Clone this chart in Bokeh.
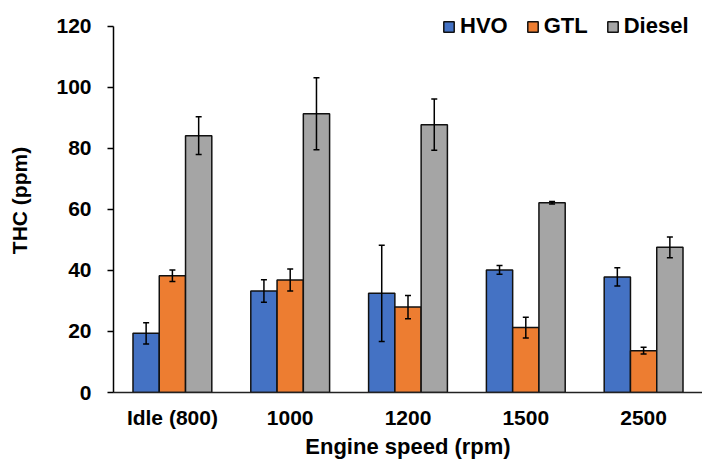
from bokeh.plotting import figure
from bokeh.models import (ColumnDataSource, Range1d, FactorRange, FixedTicker, Whisker,
                          TeeHead, Legend, LegendItem)
from bokeh.transform import dodge
from bokeh.embed import file_html
from bokeh.resources import INLINE

# ---- data ----
categories = ["Idle (800)", "1000", "1200", "1500", "2500"]
hvo = [19.4, 33.3, 32.5, 40.2, 37.9]
gtl = [38.3, 36.9, 28.0, 21.3, 13.7]
diesel = [84.2, 91.4, 87.8, 62.2, 47.6]
hvo_err = [3.5, 3.7, 15.8, 1.4, 3.0]
gtl_err = [1.9, 3.6, 3.8, 3.4, 1.1]
diesel_err = [6.2, 11.8, 8.4, 0.4, 3.4]
y_ticks = [0, 20, 40, 60, 80, 100, 120]

series = [
    ("HVO", hvo, hvo_err, "#4472C4", -0.223),
    ("GTL", gtl, gtl_err, "#ED7D31", 0.0),
    ("Diesel", diesel, diesel_err, "#A5A5A5", 0.223),
]

FONT = "Liberation Sans"

# frame spans 8..392 px; axis drawn only 0..120 so the legend can sit above the 120 line
p = figure(width=702, height=461, x_range=FactorRange(factors=categories),
           y_range=Range1d(0, 125.9), output_backend="svg", toolbar_location=None,
           min_border_left=113, min_border_right=0, min_border_top=8, min_border_bottom=69)
p.outline_line_color = None
p.xgrid.grid_line_color = None
p.ygrid.grid_line_color = None
p.background_fill_color = "white"
p.border_fill_color = "white"

legend_items = []
for name, vals, errs, color, off in series:
    src = ColumnDataSource(dict(
        cat=categories, val=vals,
        lo=[v - e for v, e in zip(vals, errs)],
        hi=[v + e for v, e in zip(vals, errs)],
    ))
    r = p.vbar(x=dodge("cat", off, range=p.x_range), top="val", width=0.223, source=src,
               fill_color=color, line_color="#111111", line_width=1.5)
    w = Whisker(source=src, base=dodge("cat", off, range=p.x_range), lower="lo", upper="hi",
                line_color="black", line_width=1.5, level="overlay",
                upper_head=TeeHead(size=6, line_color="black", line_width=1.5),
                lower_head=TeeHead(size=6, line_color="black", line_width=1.5))
    p.add_layout(w)
    legend_items.append(LegendItem(label=name, renderers=[r]))

legend = Legend(items=legend_items, orientation="horizontal", location=(329, 353),
                glyph_width=13, glyph_height=13, label_standoff=5, spacing=18,
                padding=0, margin=0, border_line_color=None, background_fill_alpha=0,
                label_text_font=FONT, label_text_font_style="bold",
                label_text_font_size="22px", label_text_color="black")
p.add_layout(legend, "center")

# y axis
ya = p.yaxis[0]
ya.ticker = FixedTicker(ticks=y_ticks)
ya.bounds = (y_ticks[0], y_ticks[-1])
ya.minor_tick_line_color = None
ya.major_tick_in = 0
ya.major_tick_out = 6
ya.major_tick_line_color = "black"
ya.major_tick_line_width = 1.5
ya.axis_line_color = "black"
ya.axis_line_width = 1.5
ya.major_label_text_font = FONT
ya.major_label_text_font_style = "bold"
ya.major_label_text_font_size = "21px"
ya.major_label_text_color = "black"
ya.major_label_standoff = 16
ya.axis_label = "THC (ppm)"
ya.axis_label_text_font = FONT
ya.axis_label_text_font_style = "bold"
ya.axis_label_text_font_size = "21px"
ya.axis_label_text_color = "black"
ya.axis_label_standoff = 22

# x axis
xa = p.xaxis[0]
xa.major_tick_line_color = None
xa.minor_tick_line_color = None
xa.axis_line_color = "#222222"
xa.axis_line_width = 1.5
xa.major_label_text_font = FONT
xa.major_label_text_font_style = "bold"
xa.major_label_text_font_size = "21px"
xa.major_label_text_color = "black"
xa.major_label_standoff = 7
xa.axis_label = "Engine speed (rpm)"
xa.axis_label_text_font = FONT
xa.axis_label_text_font_style = "bold"
xa.axis_label_text_font_size = "22px"
xa.axis_label_text_color = "black"
xa.axis_label_standoff = 2

open("out.html", "w").write(file_html(p, INLINE))
